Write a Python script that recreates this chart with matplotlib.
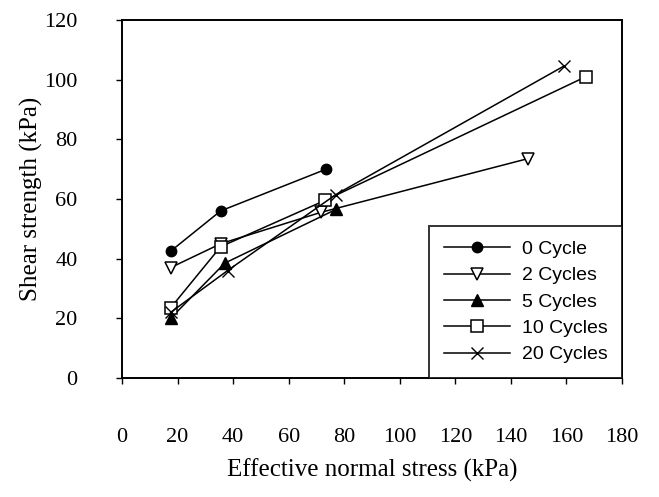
import matplotlib
matplotlib.use("Agg")
import matplotlib.pyplot as plt

# Shear strength vs effective normal stress for different numbers of cycles
x_0 = [17.5, 35.5, 73.5]
y_0 = [42.5, 56.0, 70.0]

x_2 = [17.5, 35.5, 71.5, 146.0]
y_2 = [37.0, 45.0, 55.5, 73.5]

x_5 = [17.5, 37.0, 77.0]
y_5 = [20.0, 38.5, 56.5]

x_10 = [17.5, 35.5, 73.0, 167.0]
y_10 = [23.5, 44.0, 59.5, 101.0]

x_20 = [17.5, 38.0, 77.0, 159.0]
y_20 = [22.0, 36.0, 61.5, 104.5]

labels = ["0 Cycle", "2 Cycles", "5 Cycles", "10 Cycles", "20 Cycles"]
x_ticks = list(range(0, 181, 20))
y_ticks = list(range(0, 121, 20))

serif = "Liberation Serif"
sans = "Liberation Sans"

fig = plt.figure(figsize=(6.59, 4.97), dpi=100)
ax = fig.add_axes([122 / 659, 1 - 378 / 497, 500 / 659, 358 / 497])

lw = 1.1
ax.plot(x_0, y_0, '-', color='black', lw=lw, marker='o', ms=7.5,
        mfc='black', mec='black', label=labels[0])
ax.plot(x_2, y_2, '-', color='black', lw=lw, marker='v', ms=8,
        mfc='white', mec='black', mew=1.1, label=labels[1])
ax.plot(x_5, y_5, '-', color='black', lw=lw, marker='^', ms=8,
        mfc='black', mec='black', label=labels[2])
ax.plot(x_10, y_10, '-', color='black', lw=lw, marker='s', ms=8,
        mfc='white', mec='black', mew=1.1, label=labels[3])
ax.plot(x_20, y_20, '-', color='black', lw=lw, marker='x', ms=8,
        mec='black', mew=1.0, label=labels[4])

ax.set_xlim(0, 180)
ax.set_ylim(0, 120)
ax.set_xticks(x_ticks)
ax.set_yticks(y_ticks)
ax.set_xticklabels([str(v) for v in x_ticks], fontfamily=serif, fontsize=16)
ax.set_yticklabels([str(v) for v in y_ticks], fontfamily=serif, fontsize=16)
ax.tick_params(axis='x', direction='out', length=4, width=1, pad=32)
ax.tick_params(axis='y', direction='out', length=4, width=1, pad=28)

for s in ax.spines.values():
    s.set_linewidth(1.4)

ax.set_xlabel('Effective normal stress (kPa)', fontfamily=serif, fontsize=18, labelpad=8)
ax.set_ylabel('Shear strength (kPa)', fontfamily=serif, fontsize=18, labelpad=1)

leg = ax.legend(loc='lower right', bbox_to_anchor=(1, 0), borderaxespad=0,
                prop={'family': sans, 'size': 14}, fancybox=False,
                frameon=True, edgecolor='black', handlelength=3.4,
                handletextpad=0.6, labelspacing=0.45, borderpad=0.75)
leg.get_frame().set_linewidth(1.4)

fig.savefig('out.png', dpi=100)
